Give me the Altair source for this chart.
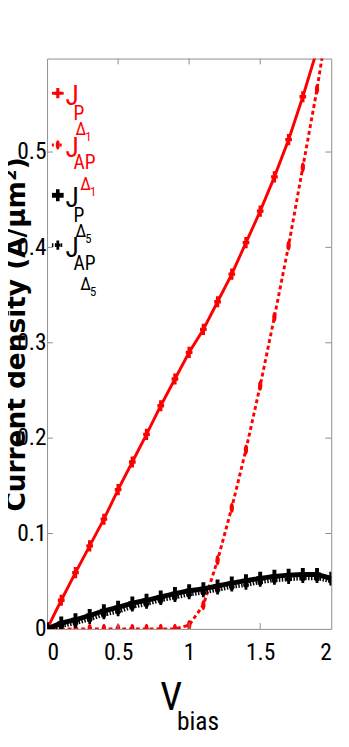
import altair as alt
import pandas as pd

# ---------------- data ----------------
V = [0.0, 0.1, 0.2, 0.3, 0.4, 0.5, 0.6, 0.7, 0.8, 0.9, 1.0,
     1.1, 1.2, 1.3, 1.4, 1.5, 1.6, 1.7, 1.8, 1.9, 2.0]
J_P_D1 = [0.0, 0.030, 0.059, 0.087, 0.115, 0.146, 0.175, 0.204, 0.234, 0.262, 0.290,
          0.314, 0.343, 0.372, 0.405, 0.438, 0.474, 0.513, 0.558, 0.607, 0.660]
J_AP_D1 = [0.0, 0.0, 0.0, 0.0, 0.0, 0.0, 0.0, 0.0, 0.0, 0.0, 0.004,
           0.025, 0.072, 0.127, 0.188, 0.255, 0.327, 0.402, 0.484, 0.566, 0.660]
J_P_D5 = [0.0, 0.006, 0.0096, 0.014, 0.019, 0.0225, 0.027, 0.030, 0.0335, 0.037, 0.040,
          0.042, 0.045, 0.048, 0.0505, 0.053, 0.055, 0.0563, 0.057, 0.057, 0.053]
J_AP_D5 = [0.0, 0.003, 0.006, 0.010, 0.015, 0.018, 0.023, 0.026, 0.030, 0.033, 0.036,
           0.038, 0.041, 0.044, 0.046, 0.049, 0.051, 0.052, 0.053, 0.053, 0.050]
X_TICKS = [0, 0.5, 1, 1.5, 2]
Y_TICKS = [0, 0.1, 0.2, 0.3, 0.4, 0.5]
X_INNER = [0.5, 1, 1.5]
Y_INNER = [0.1, 0.2, 0.3, 0.4, 0.5]

W, H = 291, 584
YMAX = 0.598
NARROW = ("Roboto Condensed, DejaVu Sans Condensed, Liberation Sans Narrow, "
          "Liberation Sans, Arial, sans-serif")
RED = "#ff0000"
FRAME = "#8c8c8c"

PLUS = ("M-0.3,-1L0.3,-1L0.3,-0.3L0.6,-0.3L0.6,0.3L0.3,0.3L0.3,1L-0.3,1"
        "L-0.3,0.3L-0.6,0.3L-0.6,-0.3L-0.3,-0.3Z")
ELLIPSE = "M0,-1A0.42,1 0 1,1 0,1A0.42,1 0 1,1 0,-1Z"

xs = alt.Scale(domain=[0, 2], nice=False, zero=False)
ys = alt.Scale(domain=[0, YMAX], nice=False, zero=False)

X_ENC = alt.X("V:Q", scale=xs,
              axis=alt.Axis(values=X_TICKS, title=None, labelPadding=12, format="~g"))
Y_ENC = alt.Y("J:Q", scale=ys,
              axis=alt.Axis(values=Y_TICKS, title="Current density (A/\u03bcm\u00b2)",
                            labelPadding=1, format="~g",
                            titleX=-31, titleY=282, titleAngle=270,
                            titleAlign="center", titleBaseline="middle"))


def series(vals):
    return pd.DataFrame({"V": V, "J": vals})


def enc(ch):
    return ch.encode(x=X_ENC, y=Y_ENC)


layers = []
# red solid
d = series(J_P_D1)
layers.append(enc(alt.Chart(d).mark_line(color=RED, strokeWidth=3, clip=True)))
layers.append(enc(alt.Chart(d).mark_point(shape=PLUS, filled=True, size=130, color=RED,
                                          opacity=1, clip=True)))
# red dashed
d = series(J_AP_D1)
layers.append(enc(alt.Chart(d).mark_line(color=RED, strokeWidth=3, strokeDash=[4, 3], clip=True)))
layers.append(enc(alt.Chart(d).mark_point(shape=ELLIPSE, filled=True, size=110, color=RED,
                                          opacity=1, clip=True)))
# black dotted
d = series(J_AP_D5)
layers.append(enc(alt.Chart(d).mark_line(color="black", strokeWidth=4, strokeDash=[1.5, 1.5], clip=True)))
layers.append(enc(alt.Chart(d).mark_point(shape=PLUS, filled=True, size=90, color="black",
                                          opacity=1, clip=True)))
# black solid
d = series(J_P_D5)
layers.append(enc(alt.Chart(d).mark_line(color="black", strokeWidth=5, clip=True)))
layers.append(enc(alt.Chart(d).mark_point(shape=PLUS, filled=True, size=180, color="black",
                                          opacity=1, clip=True)))

# inward ticks on all four sides
tx = pd.DataFrame({"V": X_INNER})
ty = pd.DataFrame({"J": Y_INNER})
layers.append(alt.Chart(tx).mark_rule(color=FRAME, strokeWidth=1).encode(
    x=X_ENC, y=alt.value(H), y2=alt.value(H - 6)))
layers.append(alt.Chart(tx).mark_rule(color=FRAME, strokeWidth=1).encode(
    x=X_ENC, y=alt.value(0), y2=alt.value(6)))
layers.append(alt.Chart(ty).mark_rule(color=FRAME, strokeWidth=1).encode(
    y=Y_ENC, x=alt.value(0), x2=alt.value(6)))
layers.append(alt.Chart(ty).mark_rule(color=FRAME, strokeWidth=1).encode(
    y=Y_ENC, x=alt.value(W), x2=alt.value(W - 6)))

one = pd.DataFrame({"k": [0]})


def txt(s, x, y, size, color="black", font=NARROW, align="left"):
    return alt.Chart(one).mark_text(text=s, align=align, baseline="alphabetic", font=font,
                                    fontSize=size, color=color).encode(
        x=alt.value(x), y=alt.value(y))


def seg(x1, x2, y, color, width, dash=None):
    kw = dict(color=color, strokeWidth=width)
    if dash:
        kw["strokeDash"] = dash
    return alt.Chart(one).mark_rule(**kw).encode(x=alt.value(x1), x2=alt.value(x2), y=alt.value(y))


def sym(x, y, shape, size, color):
    return alt.Chart(one).mark_point(shape=shape, filled=True, size=size, color=color,
                                     opacity=1).encode(x=alt.value(x), y=alt.value(y))


# legend (inside the plot, top-left)
entries = [
    # (y of symbol, colour, dash, line width, shape, size, sub, digit)
    (35.5, RED, None, 3, PLUS, 110, "P", "1"),
    (88.5, RED, [2, 2], 3, ELLIPSE, 90, "AP", "1"),
    (140, "black", None, 5, PLUS, 150, "P", "5"),
    (191, "black", [1.5, 1.5], 4, PLUS, 90, "AP", "5"),
]
for (sy, col, dash, lw, shp, sz, sub, dig) in entries:
    layers.append(seg(5, 17, sy, col, lw, dash))
    layers.append(sym(11, sy, shp, sz, col))
    layers.append(txt("J", 19, sy + 12, 28, col))
    layers.append(txt(sub, 27, sy + (27 if sub == "P" else 25), 20, col))
    dx = 29 if sub == "P" else 34
    dy = 43 if sub == "P" else 46
    layers.append(txt("\u0394", dx, sy + dy, 18, col))
    layers.append(txt(dig, dx + 10, sy + dy + 6, 13, col))

# x-axis title V_bias
layers.append(txt("V", 116, 667, 40))
layers.append(txt("bias", 133, 688, 26))

chart = alt.layer(*layers).properties(
    width=W, height=H,
    autosize=alt.AutoSizeParams(type="none"),
    padding={"left": 40, "top": 43, "right": 10, "bottom": 105},
).configure_view(stroke=FRAME, strokeWidth=1).configure_axis(
    domain=False, ticks=False, grid=False,
    labelFont=NARROW, labelFontSize=24, labelColor="black",
    titleFont="DejaVu Sans", titleFontSize=27, titleFontWeight="bold", titleColor="black",
)

chart.save("out.html", embed_options={"renderer": "svg", "actions": False})
